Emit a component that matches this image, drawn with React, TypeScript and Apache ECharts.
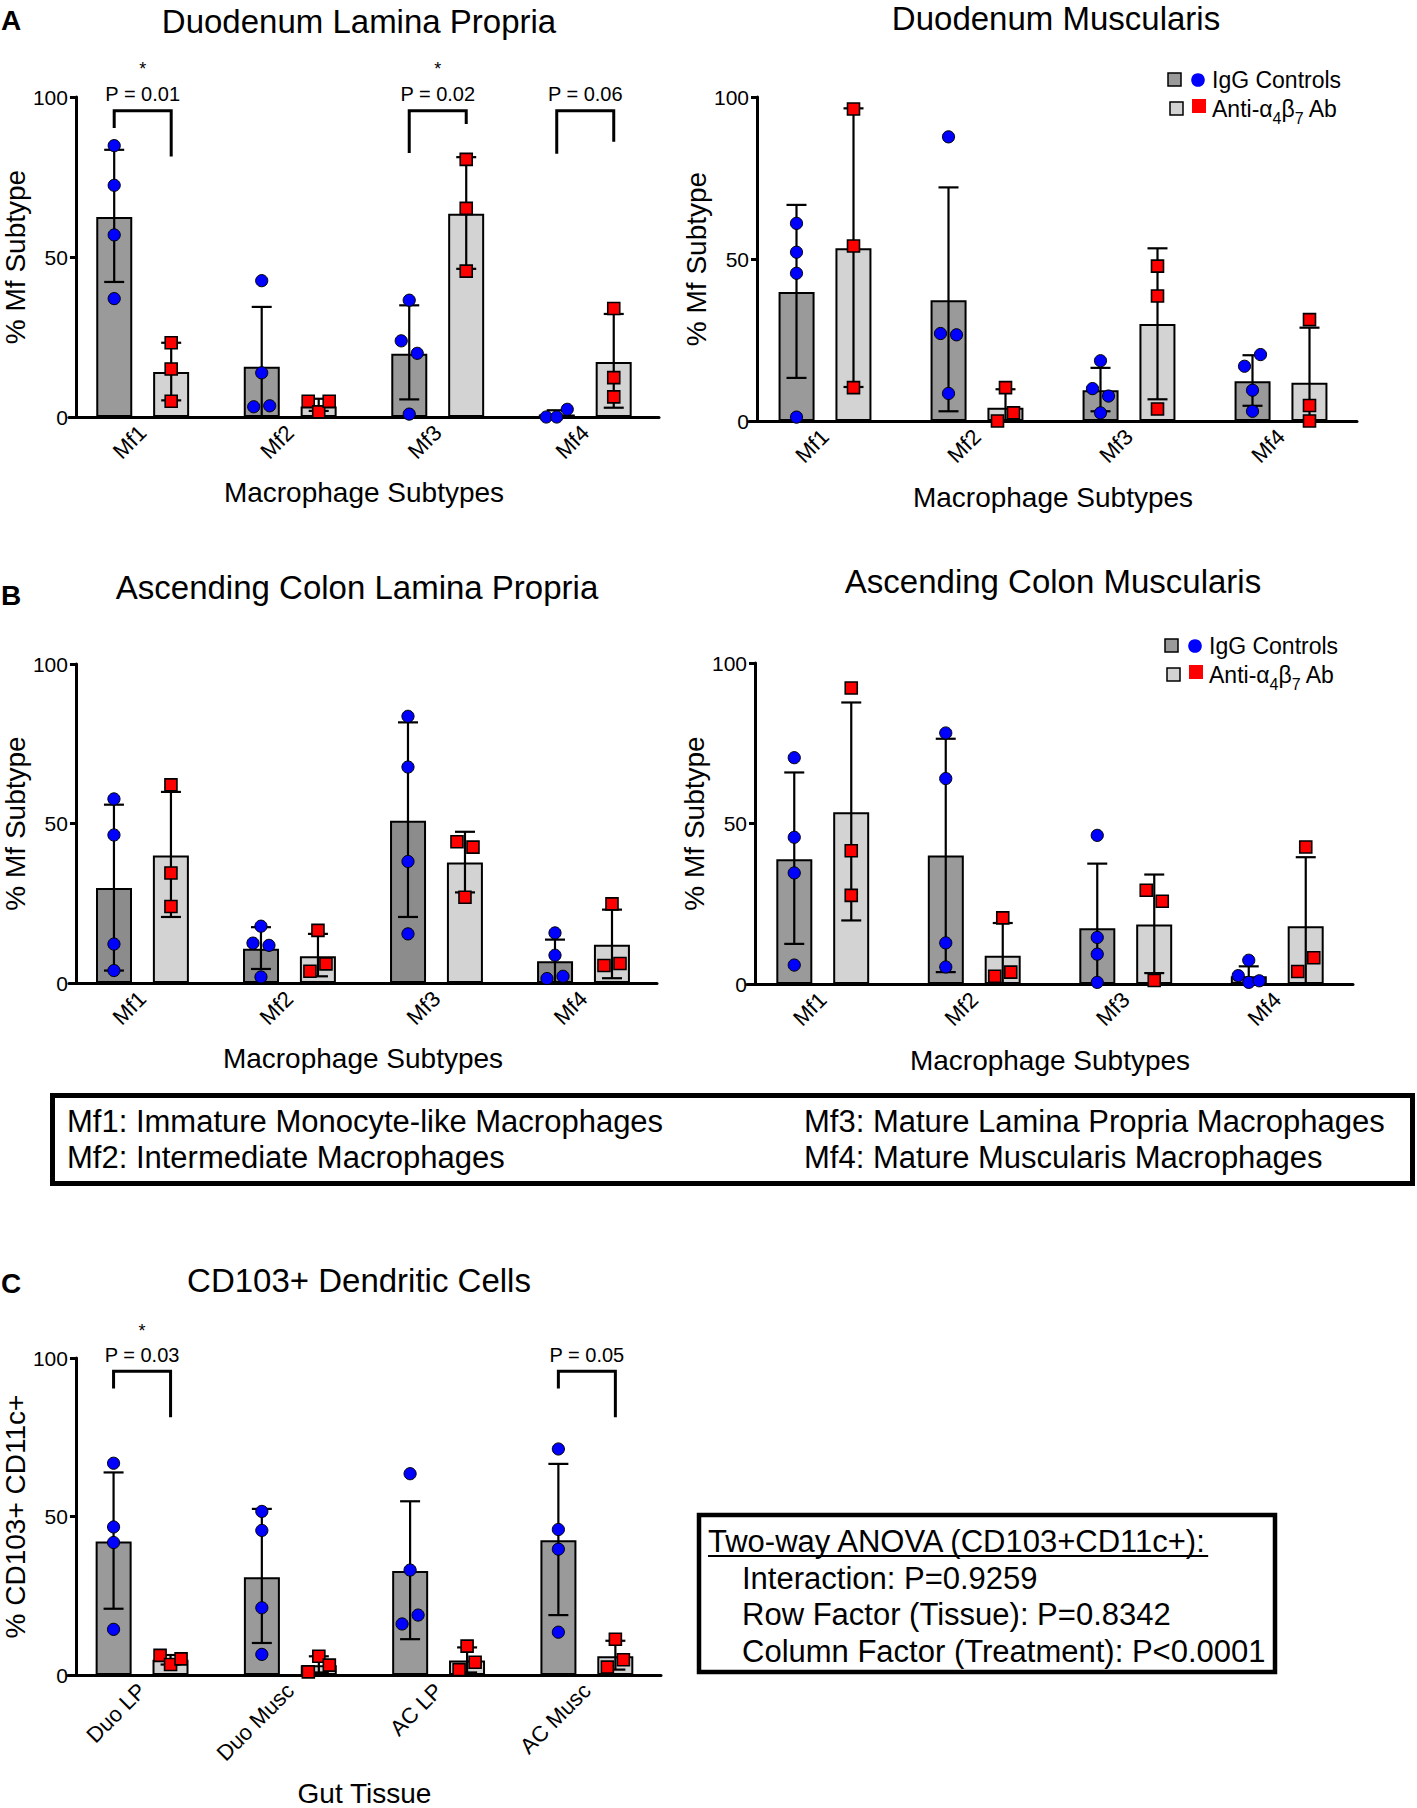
import React, { useEffect, useRef } from "react";
import * as echarts from "echarts";

// ---------------- categories / ticks ----------------
const MF_CATEGORIES = ["Mf1", "Mf2", "Mf3", "Mf4"];
const TISSUE_CATEGORIES = ["Duo LP", "Duo Musc", "AC LP", "AC Musc"];
const Y_MIN = 0;
const Y_MAX = 100;
const Y_INTERVAL = 50;

// ---------------- A: Duodenum Lamina Propria ----------------
const duoLP_iggMean = [62.5, 15.7, 19.8, 0.8];
const duoLP_iggHi = [83.5, 34.4, 34.9, 2.1];
const duoLP_iggLo = [42.2, 0, 5.5, 0];
const duoLP_antiMean = [14.1, 3.3, 63.5, 17.2];
const duoLP_antiHi = [23.2, 5.7, 81.2, 32.2];
const duoLP_antiLo = [5.2, 1.9, 46.3, 2.9];
const duoLP_iggPts = [[84.8, 72.4, 56.9, 37.0], [42.6, 13.8, 3.2, 3.5], [36.5, 23.8, 19.9, 0.9], [0, 0, 2.4]];
const duoLP_antiPts = [[23.2, 15.0, 4.9], [4.9, 1.6, 4.9], [80.5, 65.2, 45.6], [33.9, 12.3, 6.3]];
const duoLP_brackets = [
  { cat: 0, top: 95.7, left: 90.3, right: 81.4, p: "P = 0.01", star: true },
  { cat: 2, top: 95.7, left: 82.5, right: 91.6, p: "P = 0.02", star: true },
  { cat: 3, top: 95.7, left: 82.3, right: 86.0, p: "P = 0.06", star: false },
];

// ---------------- A: Duodenum Muscularis ----------------
const duoMu_iggMean = [39.8, 37.3, 9.5, 12.3];
const duoMu_iggHi = [66.7, 72.1, 16.4, 20.3];
const duoMu_iggLo = [13.3, 3.0, 3.0, 4.7];
const duoMu_antiMean = [53.3, 4.1, 29.9, 11.8];
const duoMu_antiHi = [96.5, 9.8, 53.3, 28.8];
const duoMu_antiLo = [10.5, 0, 6.7, 0];
const duoMu_iggPts = [[61.0, 52.1, 45.6, 1.2], [87.7, 27.0, 26.6, 8.5], [18.6, 10.0, 7.7, 2.5], [16.9, 20.5, 9.5, 3.0]];
const duoMu_antiPts = [[96.3, 54.0, 10.3], [10.3, 0, 2.5], [47.8, 38.6, 3.7], [31.3, 4.8, 0]];

// ---------------- B: Ascending Colon Lamina Propria ----------------
const acLP_iggMean = [29.8, 10.7, 50.9, 6.8];
const acLP_iggHi = [55.9, 17.5, 81.7, 13.6];
const acLP_iggLo = [3.9, 4.4, 20.7, 0.3];
const acLP_antiMean = [40.0, 8.4, 37.8, 12.0];
const acLP_antiHi = [59.9, 15.4, 47.4, 23.0];
const acLP_antiLo = [20.7, 2.1, 28.4, 1.5];
const acLP_iggPts = [[57.7, 46.4, 12.2, 3.9], [17.8, 12.5, 11.8, 1.9], [83.6, 67.7, 38.1, 15.4], [15.7, 8.7, 1.4, 2.1]];
const acLP_antiPts = [[62.1, 34.5, 24.0], [16.5, 3.7, 6.0], [44.3, 42.6, 26.9], [24.8, 5.5, 6.1]];

// ---------------- B: Ascending Colon Muscularis ----------------
const acMu_iggMean = [38.9, 40.0, 17.4, 2.4];
const acMu_iggHi = [65.9, 76.4, 37.5, 5.5];
const acMu_iggLo = [12.5, 3.7, 0, 0];
const acMu_antiMean = [53.5, 8.8, 18.5, 18.0];
const acMu_antiHi = [87.7, 19.0, 34.1, 39.5];
const acMu_antiLo = [19.8, 0, 3.4, 0];
const acMu_iggPts = [[70.5, 45.7, 34.6, 5.9], [78.2, 64.0, 12.8, 5.3], [46.3, 14.5, 9.3, 0.5], [7.4, 2.6, 0.5, 1.0]];
const acMu_antiPts = [[92.2, 41.5, 27.6], [20.6, 2.4, 3.7], [29.2, 25.8, 1.1], [42.7, 3.9, 8.2]];

// ---------------- C: CD103+ Dendritic Cells ----------------
const dc_iggMean = [42.1, 30.8, 32.8, 42.5];
const dc_iggHi = [63.9, 52.4, 54.8, 66.6];
const dc_iggLo = [20.9, 10.1, 11.3, 18.9];
const dc_antiMean = [4.8, 3.1, 4.6, 5.9];
const dc_antiHi = [6.3, 5.9, 8.7, 10.8];
const dc_antiLo = [3.3, 0.8, 0.8, 1.7];
const dc_iggPts = [[66.8, 46.7, 41.8, 14.4], [51.6, 45.6, 21.2, 6.5], [63.5, 33.1, 16.1, 18.9], [71.3, 45.9, 39.7, 13.5]];
const dc_antiPts = [[6.2, 3.3, 5.1], [1.0, 5.9, 3.1], [9.1, 1.7, 4.0], [11.3, 2.5, 4.8]];
const dc_brackets = [
  { cat: 0, top: 95.8, left: 90.4, right: 81.3, p: "P = 0.03", star: true },
  { cat: 3, top: 95.8, left: 90.4, right: 81.3, p: "P = 0.05", star: false },
];
const P_TEXT_VALUE = 100.8;
const STAR_VALUE = 108.6;

// ---------------- texts ----------------
const LEGEND_IGG = "IgG Controls";
const MF_DEFINITIONS = [
  "Mf1: Immature Monocyte-like Macrophages",
  "Mf2: Intermediate Macrophages",
  "Mf3: Mature Lamina Propria Macrophages",
  "Mf4: Mature Muscularis Macrophages",
];
const ANOVA_LINES = [
  "Two-way ANOVA (CD103+CD11c+):",
  "Interaction: P=0.9259",
  "Row Factor (Tissue): P=0.8342",
  "Column Factor (Treatment): P<0.0001",
];

// ---------------- styles / layout ----------------
const FONT = "'Liberation Sans', Arial, Helvetica, sans-serif";
const IGG_COLOR = "#9a9a9a";
const ANTI_COLOR = "#d3d3d3";
const BLUE = "#0000ff";
const RED = "#ff0000";
const BAR_W = 36;
const GROUP_OFF = 28.5;
const JITTER_THR = 14.6;

const PANELS = [
  {
    title: "Duodenum Lamina Propria", titleX: 359, titleY: 21,
    grid: { left: 57, top: 97, width: 602, height: 320 }, yOffset: -7,
    cats: MF_CATEGORIES, xName: "Macrophage Subtypes", yName: "% Mf Subtype", xNameGap: 61, yNameGap: 39,
    iggColor: IGG_COLOR,
    iggMean: duoLP_iggMean, iggHi: duoLP_iggHi, iggLo: duoLP_iggLo,
    antiMean: duoLP_antiMean, antiHi: duoLP_antiHi, antiLo: duoLP_antiLo,
    iggPts: duoLP_iggPts, antiPts: duoLP_antiPts, brackets: duoLP_brackets,
  },
  {
    title: "Duodenum Muscularis", titleX: 1056, titleY: 18,
    grid: { left: 749, top: 97, width: 608, height: 324 }, yOffset: -8,
    cats: MF_CATEGORIES, xName: "Macrophage Subtypes", yName: "% Mf Subtype", xNameGap: 62, yNameGap: 43,
    iggColor: IGG_COLOR,
    iggMean: duoMu_iggMean, iggHi: duoMu_iggHi, iggLo: duoMu_iggLo,
    antiMean: duoMu_antiMean, antiHi: duoMu_antiHi, antiLo: duoMu_antiLo,
    iggPts: duoMu_iggPts, antiPts: duoMu_antiPts, brackets: [],
    legend: { x: 1168, y1: 80, y2: 107 },
  },
  {
    title: "Ascending Colon Lamina Propria", titleX: 357, titleY: 587,
    grid: { left: 57, top: 664, width: 600, height: 319 }, yOffset: -7,
    cats: MF_CATEGORIES, xName: "Macrophage Subtypes", yName: "% Mf Subtype", xNameGap: 61, yNameGap: 39,
    iggColor: "#8c8c8c",
    iggMean: acLP_iggMean, iggHi: acLP_iggHi, iggLo: acLP_iggLo,
    antiMean: acLP_antiMean, antiHi: acLP_antiHi, antiLo: acLP_antiLo,
    iggPts: acLP_iggPts, antiPts: acLP_antiPts, brackets: [],
  },
  {
    title: "Ascending Colon Muscularis", titleX: 1053, titleY: 581,
    grid: { left: 747, top: 663, width: 606, height: 321 }, yOffset: -8,
    cats: MF_CATEGORIES, xName: "Macrophage Subtypes", yName: "% Mf Subtype", xNameGap: 62, yNameGap: 41,
    iggColor: IGG_COLOR,
    iggMean: acMu_iggMean, iggHi: acMu_iggHi, iggLo: acMu_iggLo,
    antiMean: acMu_antiMean, antiHi: acMu_antiHi, antiLo: acMu_antiLo,
    iggPts: acMu_iggPts, antiPts: acMu_antiPts, brackets: [],
    legend: { x: 1165, y1: 646, y2: 673 },
  },
  {
    title: "CD103+ Dendritic Cells", titleX: 359, titleY: 1280,
    grid: { left: 57, top: 1358, width: 604, height: 319 }, yOffset: -8,
    cats: TISSUE_CATEGORIES, xName: "Gut Tissue", yName: "% CD103+ CD11c+", xNameGap: 104, yNameGap: 38,
    iggColor: IGG_COLOR,
    iggMean: dc_iggMean, iggHi: dc_iggHi, iggLo: dc_iggLo,
    antiMean: dc_antiMean, antiHi: dc_antiHi, antiLo: dc_antiLo,
    iggPts: dc_iggPts, antiPts: dc_antiPts, brackets: dc_brackets,
  },
];

function jitterOffsets(vals: number[], pxPerUnit: number): number[] {
  const off = vals.map(() => 0);
  if (!vals.length) return off;
  const idx = vals.map((_, k) => k).sort((a, b) => vals[a] - vals[b]);
  const clusters: number[][] = [];
  let cur = [idx[0]];
  for (let k = 1; k < idx.length; k++) {
    if ((vals[idx[k]] - vals[idx[k - 1]]) * pxPerUnit < JITTER_THR) cur.push(idx[k]);
    else {
      clusters.push(cur);
      cur = [idx[k]];
    }
  }
  clusters.push(cur);
  clusters.forEach((cl) => {
    cl.sort((a, b) => a - b);
    const n = cl.length;
    const step = n === 2 ? 16 : 10.5;
    cl.forEach((k, j) => {
      off[k] = (j - (n - 1) / 2) * step;
    });
  });
  return off;
}

function measureText(text: string, font: string): number {
  try {
    const ctx = document.createElement("canvas").getContext("2d");
    if (ctx) {
      ctx.font = font;
      return ctx.measureText(text).width;
    }
  } catch (e) {
    // ignore
  }
  return text.length * 15;
}

function buildOption() {
  const grid: any[] = [];
  const xAxis: any[] = [];
  const yAxis: any[] = [];
  const series: any[] = [];
  const graphic: any[] = [];

  PANELS.forEach((p: any, pi) => {
    grid.push({ ...p.grid, containLabel: false });
    xAxis.push({
      type: "category",
      gridIndex: pi,
      data: p.cats,
      name: p.xName,
      nameLocation: "middle",
      nameGap: p.xNameGap,
      nameTextStyle: { fontSize: 28, color: "#000", fontFamily: FONT },
      axisLine: { lineStyle: { color: "#000", width: 3 } },
      axisTick: { alignWithLabel: true, length: 8, lineStyle: { color: "#000", width: 3 } },
      axisLabel: { rotate: 45, fontSize: 22, color: "#000", margin: 12, fontFamily: FONT, interval: 0 },
      splitLine: { show: false },
    });
    yAxis.push({
      type: "value",
      gridIndex: pi,
      min: Y_MIN,
      max: Y_MAX,
      interval: Y_INTERVAL,
      offset: p.yOffset,
      name: p.yName,
      nameLocation: "middle",
      nameGap: p.yNameGap,
      nameTextStyle: { fontSize: 28, color: "#000", fontFamily: FONT },
      axisLine: { show: true, onZero: false, lineStyle: { color: "#000", width: 3 } },
      axisTick: { show: true, length: 6, lineStyle: { color: "#000", width: 3 } },
      axisLabel: { fontSize: 21, color: "#000", margin: 8, fontFamily: FONT },
      splitLine: { show: false },
    });

    const barCommon = {
      type: "bar",
      xAxisIndex: pi,
      yAxisIndex: pi,
      barWidth: BAR_W,
      barGap: "58%",
      silent: true,
      z: 2,
    };
    series.push({
      ...barCommon,
      name: "IgG " + pi,
      data: p.iggMean,
      itemStyle: { color: p.iggColor, borderColor: "#000", borderWidth: 2 },
    });
    series.push({
      ...barCommon,
      name: "Anti " + pi,
      data: p.antiMean,
      itemStyle: { color: ANTI_COLOR, borderColor: "#000", borderWidth: 2 },
    });

    // error bars + individual points
    series.push({
      type: "custom",
      xAxisIndex: pi,
      yAxisIndex: pi,
      z: 5,
      silent: true,
      data: p.cats.map((_: string, i: number) => [i, p.iggMean[i]]),
      renderItem: (params: any, api: any) => {
        const i = params.dataIndex;
        const base = api.coord([i, 0]);
        const cx = base[0];
        const pxPerUnit = (base[1] - api.coord([i, 100])[1]) / 100;
        const children: any[] = [];
        const groups = [
          { off: -GROUP_OFF, hi: p.iggHi[i], lo: p.iggLo[i], pts: p.iggPts[i], shape: "circle" },
          { off: GROUP_OFF, hi: p.antiHi[i], lo: p.antiLo[i], pts: p.antiPts[i], shape: "square" },
        ];
        groups.forEach((g) => {
          const x = cx + g.off;
          const yHi = api.coord([i, g.hi])[1];
          const yLo = api.coord([i, Math.max(g.lo, 0)])[1];
          const ls = { stroke: "#000", lineWidth: 2.2 };
          children.push({ type: "line", shape: { x1: x, y1: yHi, x2: x, y2: yLo }, style: ls });
          children.push({ type: "line", shape: { x1: x - 10, y1: yHi, x2: x + 10, y2: yHi }, style: ls });
          if (g.lo > 0.05) {
            children.push({ type: "line", shape: { x1: x - 10, y1: yLo, x2: x + 10, y2: yLo }, style: ls });
          }
          const offs = jitterOffsets(g.pts, pxPerUnit);
          g.pts.forEach((v: number, k: number) => {
            const pt = api.coord([i, v]);
            const px = x + offs[k];
            if (g.shape === "circle") {
              children.push({
                type: "circle",
                shape: { cx: px, cy: pt[1], r: 6.1 },
                style: { fill: BLUE, stroke: "#000", lineWidth: 1 },
              });
            } else {
              children.push({
                type: "rect",
                shape: { x: px - 6, y: pt[1] - 6, width: 12, height: 12 },
                style: { fill: RED, stroke: "#000", lineWidth: 1.6 },
              });
            }
          });
        });
        return { type: "group", children };
      },
    });

    if (p.brackets.length) {
      series.push({
        type: "custom",
        xAxisIndex: pi,
        yAxisIndex: pi,
        z: 6,
        silent: true,
        clip: false,
        data: p.brackets.map((b: any) => [b.cat, b.top]),
        renderItem: (params: any, api: any) => {
          const b = p.brackets[params.dataIndex];
          const c = api.coord([b.cat, b.top]);
          const xl = c[0] - GROUP_OFF;
          const xr = c[0] + GROUP_OFF;
          const yl = api.coord([b.cat, b.left])[1];
          const yr = api.coord([b.cat, b.right])[1];
          const children: any[] = [
            {
              type: "polyline",
              shape: { points: [[xl, yl], [xl, c[1]], [xr, c[1]], [xr, yr]] },
              style: { stroke: "#000", lineWidth: 3, fill: "none" },
            },
            {
              type: "text",
              x: c[0],
              y: api.coord([b.cat, P_TEXT_VALUE])[1],
              style: { text: b.p, fontSize: 20, fontFamily: FONT, fill: "#000", align: "center", verticalAlign: "middle" },
            },
          ];
          if (b.star) {
            children.push({
              type: "text",
              x: c[0],
              y: api.coord([b.cat, STAR_VALUE])[1],
              style: { text: "*", fontSize: 18, fontFamily: FONT, fill: "#000", align: "center", verticalAlign: "middle" },
            });
          }
          return { type: "group", children };
        },
      });
    }

    // titles
    graphic.push({
      type: "text",
      x: p.titleX,
      y: p.titleY,
      style: { text: p.title, fontSize: 33, fontFamily: FONT, fill: "#000", align: "center", verticalAlign: "middle" },
    });

    // legend
    if (p.legend) {
      const L = p.legend;
      graphic.push({
        type: "rect",
        shape: { x: L.x, y: L.y1 - 7, width: 13, height: 13 },
        style: { fill: IGG_COLOR, stroke: "#000", lineWidth: 1.5 },
      });
      graphic.push({ type: "circle", shape: { cx: L.x + 30, cy: L.y1, r: 6.8 }, style: { fill: BLUE } });
      graphic.push({
        type: "text",
        x: L.x + 44,
        y: L.y1,
        style: { text: LEGEND_IGG, fontSize: 23, fontFamily: FONT, fill: "#000", align: "left", verticalAlign: "middle" },
      });
      graphic.push({
        type: "rect",
        shape: { x: L.x + 2, y: L.y2 - 5, width: 13, height: 13 },
        style: { fill: ANTI_COLOR, stroke: "#000", lineWidth: 1.5 },
      });
      graphic.push({
        type: "rect",
        shape: { x: L.x + 24, y: L.y2 - 8, width: 14, height: 14 },
        style: { fill: RED },
      });
      graphic.push({
        type: "text",
        x: L.x + 44,
        y: L.y2 + 2,
        style: {
          text: "{n|Anti-α}{s|4}{n|β}{s|7}{n| Ab}",
          fontFamily: FONT,
          fill: "#000",
          align: "left",
          verticalAlign: "middle",
          rich: {
            n: { fontSize: 23, fontFamily: FONT, fill: "#000", lineHeight: 34, verticalAlign: "middle" },
            s: { fontSize: 16, fontFamily: FONT, fill: "#000", lineHeight: 16, verticalAlign: "bottom" },
          },
        },
      });
    }
  });

  // panel letters
  [["A", 20], ["B", 595], ["C", 1283]].forEach(([t, y]) => {
    graphic.push({
      type: "text",
      x: 1,
      y: y as number,
      style: { text: t as string, fontSize: 28, fontWeight: "bold", fontFamily: FONT, fill: "#000", align: "left", verticalAlign: "middle" },
    });
  });

  // macrophage definitions box
  graphic.push({
    type: "rect",
    shape: { x: 52.5, y: 1095.5, width: 1360, height: 88 },
    style: { fill: "none", stroke: "#000", lineWidth: 5 },
  });
  const defPos = [
    [67, 1121],
    [67, 1157],
    [804, 1121],
    [804, 1157],
  ];
  MF_DEFINITIONS.forEach((t, k) => {
    graphic.push({
      type: "text",
      x: defPos[k][0],
      y: defPos[k][1],
      style: { text: t, fontSize: 31, fontFamily: FONT, fill: "#000", align: "left", verticalAlign: "middle" },
    });
  });

  // ANOVA box
  graphic.push({
    type: "rect",
    shape: { x: 699, y: 1515, width: 576, height: 157 },
    style: { fill: "none", stroke: "#000", lineWidth: 4.5 },
  });
  const anovaPos = [
    [708, 1541],
    [742, 1578],
    [742, 1614],
    [742, 1651],
  ];
  ANOVA_LINES.forEach((t, k) => {
    graphic.push({
      type: "text",
      x: anovaPos[k][0],
      y: anovaPos[k][1],
      style: { text: t, fontSize: 31, fontFamily: FONT, fill: "#000", align: "left", verticalAlign: "middle" },
    });
  });
  const headW = measureText(ANOVA_LINES[0], "31px " + FONT);
  graphic.push({
    type: "line",
    shape: { x1: 708, y1: 1556, x2: 708 + headW, y2: 1556 },
    style: { stroke: "#000", lineWidth: 2 },
  });

  return {
    animation: false,
    backgroundColor: "#fff",
    textStyle: { fontFamily: FONT, color: "#000" },
    grid,
    xAxis,
    yAxis,
    series,
    graphic,
  };
}

export default function App() {
  const ref = useRef<HTMLDivElement>(null);
  useEffect(() => {
    document.body.style.margin = "0";
    const chart = echarts.init(ref.current as HTMLDivElement, undefined, { renderer: "svg" });
    chart.setOption(buildOption() as any);
    return () => {
      chart.dispose();
    };
  }, []);
  return <div ref={ref} style={{ width: 1417, height: 1808, background: "#fff" }} />;
}
